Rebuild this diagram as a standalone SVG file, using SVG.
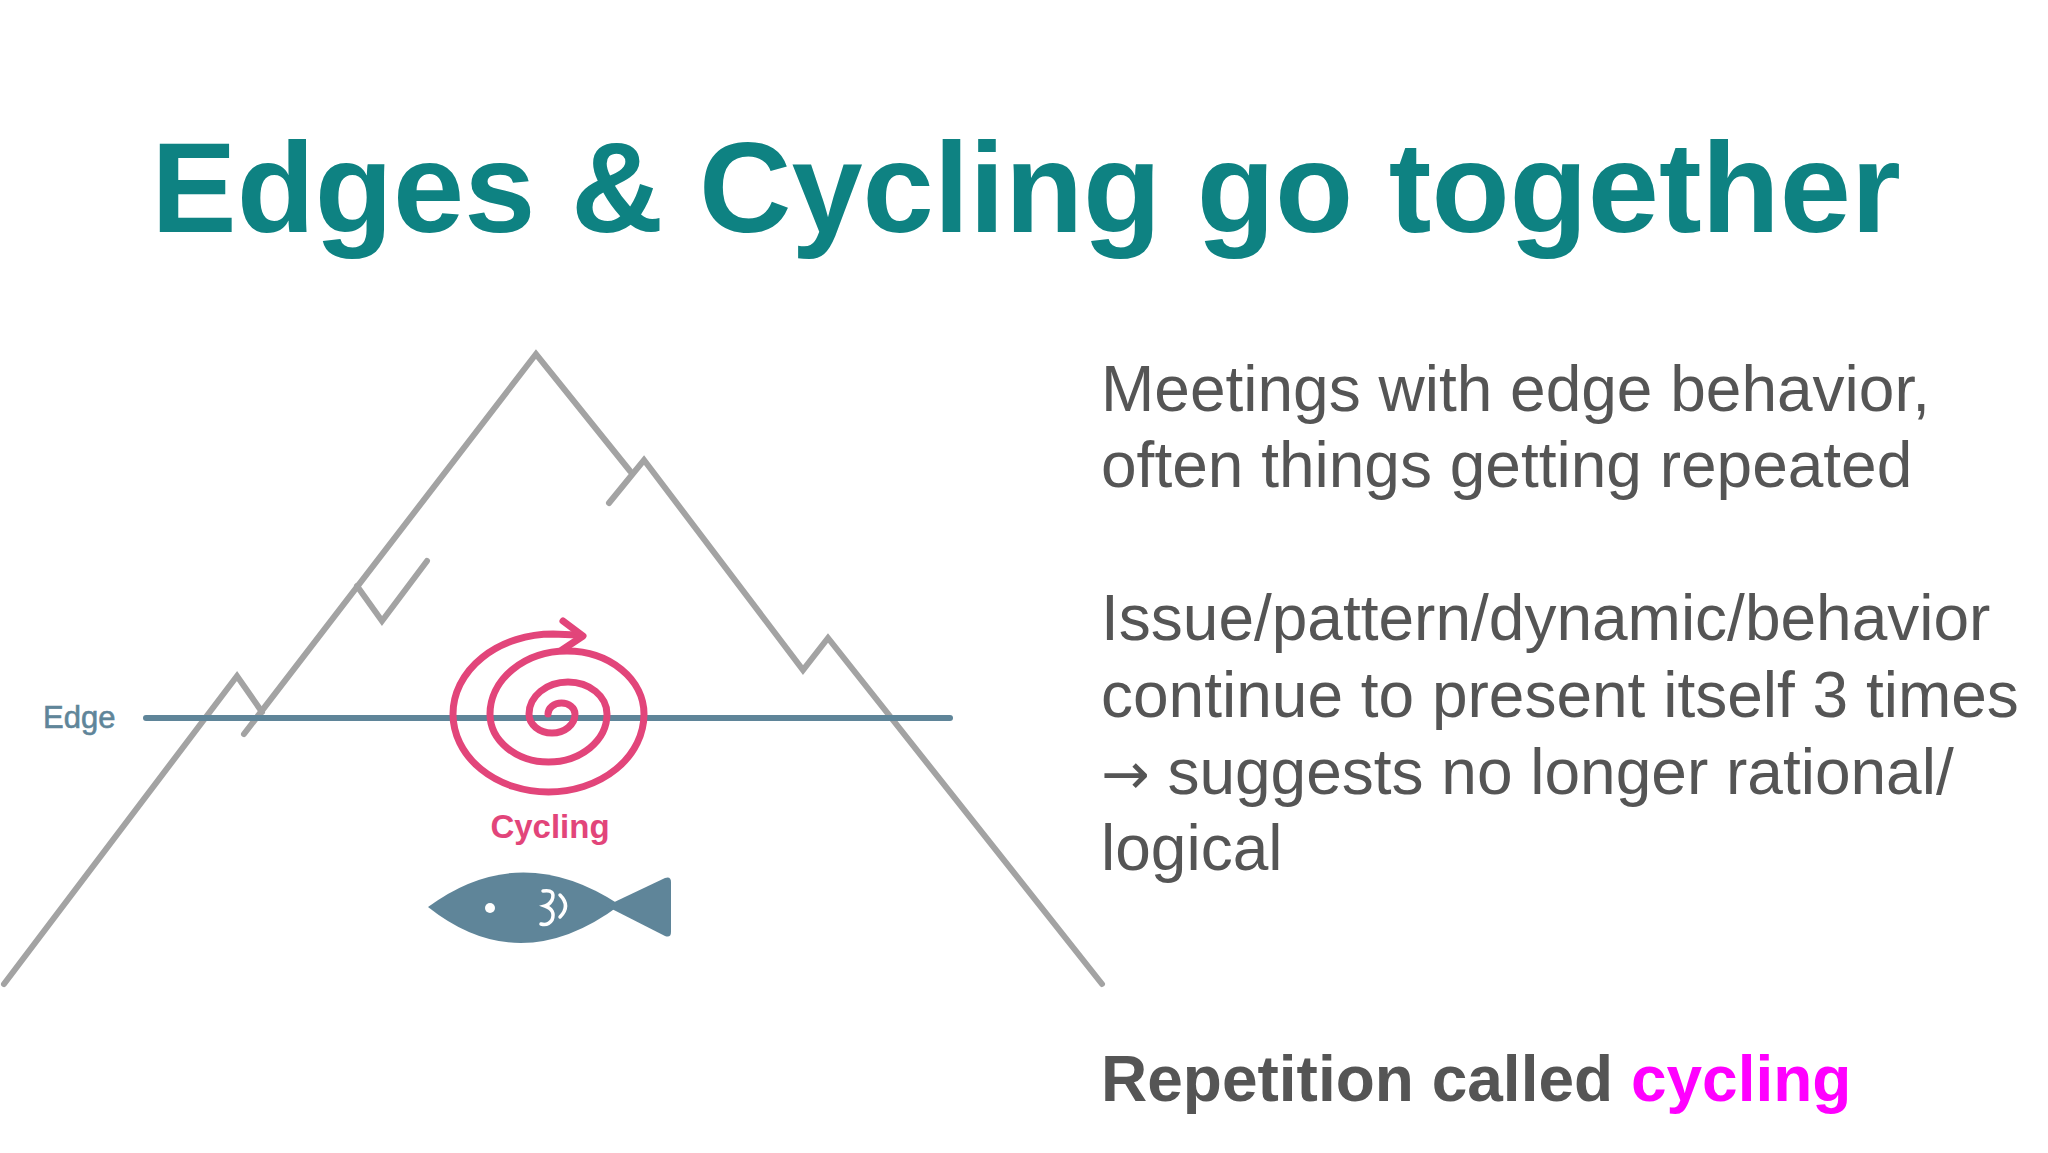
<svg xmlns="http://www.w3.org/2000/svg" width="2048" height="1153" viewBox="0 0 2048 1153">
<style>
.mt{fill:none;stroke:#a3a3a3;stroke-width:6;stroke-linejoin:miter;stroke-linecap:round}
.body{font-family:"Liberation Sans",Arial,sans-serif;font-size:64px;fill:#555555}
</style>
<rect width="2048" height="1153" fill="#ffffff"/>
<g id="title"><text x="1026" y="232" text-anchor="middle" font-family="Liberation Sans,Arial,sans-serif" font-weight="bold" font-size="128" fill="#0e8282">Edges &amp; Cycling go together</text></g>
<g id="mountain">
<path class="mt" d="M4,984 L237,676 L262,712"/>
<path class="mt" d="M244,734 L536,354 L630,471"/>
<path class="mt" d="M357,586 L382,621 L427,561"/>
<path class="mt" d="M609,503 L644,460 L803,670 L828,638 L1102,984"/>
</g>
<g id="edge">
<line x1="146" y1="718" x2="950" y2="718" stroke="#5f8599" stroke-width="6" stroke-linecap="round"/>
<text x="43" y="728" font-family="Liberation Sans,Arial,sans-serif" font-size="31" fill="#5f8599" stroke="#5f8599" stroke-width="0.6">Edge</text>
</g>
<g id="cycling">
<path fill="none" stroke="#e2457a" stroke-width="7" stroke-linecap="round" d="M548,714 A13.5 11 0 0 1 575,714 A23 19 0 0 1 529,714 A39 32 0 0 1 607,714 A58.5 48 0 0 1 490,714 A77 63 0 0 1 644,714 A95.5 78 0 0 1 453,714 A100 80 0 0 1 553,634 L577,635"/>
<path fill="none" stroke="#e2457a" stroke-width="7" stroke-linecap="round" stroke-linejoin="round" d="M563,621 L583,636 L562,650"/>
<text x="550" y="838" text-anchor="middle" font-family="Liberation Sans,Arial,sans-serif" font-size="33" font-weight="bold" fill="#e2457a">Cycling</text>
</g>
<g id="fish">
<path fill="#5f8599" d="M428,907 Q520,839 620,905 Q520,980 428,907 Z"/>
<path fill="#5f8599" d="M606,906 L665,878 Q671,876 671,882 L671,932 Q671,938 665,936 Z"/>
<circle cx="490" cy="908" r="5" fill="#ffffff"/>
<path fill="none" stroke="#ffffff" stroke-width="3.5" stroke-linecap="round" d="M543,891 Q556,889 552,900 Q549,905 545,906 Q556,910 552,920 Q548,926 541,924 M560,895 Q571,906 560,917"/>
</g>
<g id="notes">
<text class="body" x="1101" y="411">Meetings with edge behavior,</text>
<text class="body" x="1101" y="487">often things getting repeated</text>
<text class="body" x="1101" y="640">Issue/pattern/dynamic/behavior</text>
<text class="body" x="1101" y="717">continue to present itself 3 times</text>
<text class="body" x="1101" y="794"><tspan font-family="DejaVu Sans,sans-serif" font-size="58">→</tspan> suggests no longer rational/</text>
<text class="body" x="1101" y="870">logical</text>
<text class="body" x="1101" y="1101" font-weight="bold">Repetition called <tspan fill="#ff00ff">cycling</tspan></text>
</g>
</svg>
